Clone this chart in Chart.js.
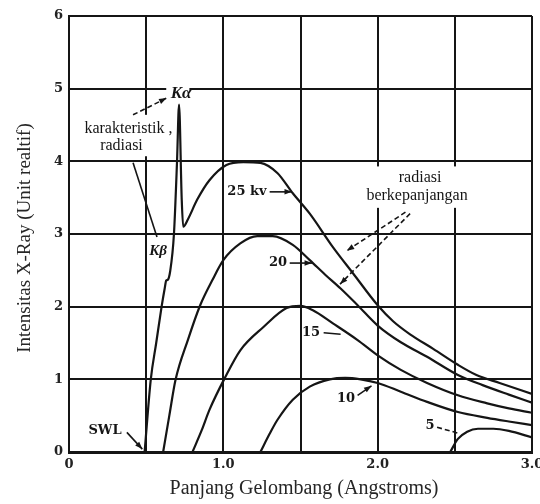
<!DOCTYPE html>
<html>
<head>
<meta charset="utf-8">
<script src="https://cdn.jsdelivr.net/npm/chart.js@4.4.1/dist/chart.umd.min.js"></script>
<style>
  body { margin: 0; background: #fff; }
  canvas { display: block; }
</style>
</head>
<body>
<canvas id="grafico" width="540" height="504" style="width:540px;height:504px"></canvas>
<script>
// Panjang gelombang (Angstrom) dan intensitas tiap kurva tegangan
var lam25 = [0.49, 0.53, 0.565, 0.60, 0.62, 0.63, 0.64, 0.655, 0.68, 0.70, 0.713, 0.73, 0.74, 0.77, 0.83, 0.91, 1.02, 1.13, 1.24, 1.35, 1.45, 1.56, 1.71, 1.84, 2.00, 2.10, 2.21, 2.36, 2.52, 2.64, 2.79, 3.00];
var int25 = [0, 1.0, 1.5, 2.0, 2.25, 2.36, 2.37, 2.48, 3.0, 4.0, 4.78, 3.5, 3.1, 3.2, 3.47, 3.74, 3.95, 3.99, 3.98, 3.84, 3.56, 3.28, 2.82, 2.46, 2.02, 1.80, 1.62, 1.42, 1.20, 1.06, 0.95, 0.80];

var lam20 = [0.61, 0.65, 0.69, 0.77, 0.85, 0.93, 1.00, 1.11, 1.22, 1.32, 1.45, 1.56, 1.66, 1.76, 1.87, 2.00, 2.15, 2.32, 2.52, 2.68, 2.85, 3.00];
var int20 = [0, 0.5, 0.99, 1.54, 2.02, 2.37, 2.64, 2.87, 2.97, 2.97, 2.85, 2.64, 2.44, 2.25, 2.02, 1.74, 1.51, 1.31, 1.06, 0.92, 0.79, 0.68];

var lam15 = [0.80, 0.86, 0.91, 1.01, 1.11, 1.26, 1.41, 1.50, 1.58, 1.71, 1.87, 2.00, 2.15, 2.32, 2.52, 2.71, 2.85, 3.00];
var int15 = [0, 0.3, 0.58, 1.02, 1.40, 1.72, 1.98, 2.01, 1.95, 1.77, 1.54, 1.33, 1.13, 0.95, 0.78, 0.67, 0.60, 0.54];

var lam10 = [1.24, 1.30, 1.35, 1.45, 1.56, 1.69, 1.79, 1.89, 2.00, 2.15, 2.32, 2.52, 2.71, 2.85, 3.00];
var int10 = [0, 0.25, 0.44, 0.72, 0.90, 1.0, 1.02, 1.0, 0.95, 0.83, 0.69, 0.55, 0.47, 0.42, 0.37];

var lam5 = [2.47, 2.52, 2.58, 2.65, 2.75, 2.85, 3.00];
var int5 = [0, 0.18, 0.28, 0.32, 0.32, 0.29, 0.20];

// Label sumbu
var ticksX = [0, 1.0, 2.0, 3.0];
var ticksY = [0, 1, 2, 3, 4, 5, 6];
var judulX = "Panjang Gelombang (Angstroms)";
var judulY = "Intensitas X-Ray (Unit realtif)";

var HITAM = "#151515";

function serie(xs, ys){
    return xs.map(function(x, i){ return {x: x, y: ys[i]}; });
}

function dataset(xs, ys){
    return {
        data: serie(xs, ys),
        borderColor: HITAM,
        borderWidth: 2.2,
        pointRadius: 0,
        fill: false,
        cubicInterpolationMode: "monotone"
    };
}

// helper: koordinat data -> pixel
function P(c, x, y){
    return [c.scales.x.getPixelForValue(x), c.scales.y.getPixelForValue(y)];
}

function kotakPutih(ctx, c, x1, y1, x2, y2){
    var a = P(c, x1, y1), b = P(c, x2, y2);
    ctx.fillStyle = "#fff";
    ctx.fillRect(a[0], b[1], b[0] - a[0], a[1] - b[1]);
}

function teks(ctx, c, s, x, y, font){
    var p = P(c, x, y);
    ctx.font = font;
    ctx.fillStyle = HITAM;
    ctx.textAlign = "center";
    ctx.textBaseline = "middle";
    ctx.fillText(s, p[0], p[1]);
}

function panah(ctx, c, x1, y1, x2, y2, putus, ujung){
    var a = P(c, x1, y1), b = P(c, x2, y2);
    ctx.save();
    ctx.strokeStyle = HITAM;
    ctx.lineWidth = 1.6;
    ctx.setLineDash(putus ? [5, 3] : []);
    ctx.beginPath();
    ctx.moveTo(a[0], a[1]);
    ctx.lineTo(b[0], b[1]);
    ctx.stroke();
    if(ujung){
        var sud = Math.atan2(b[1] - a[1], b[0] - a[0]);
        ctx.setLineDash([]);
        ctx.fillStyle = HITAM;
        ctx.beginPath();
        ctx.moveTo(b[0], b[1]);
        ctx.lineTo(b[0] - 8 * Math.cos(sud - 0.35), b[1] - 8 * Math.sin(sud - 0.35));
        ctx.lineTo(b[0] - 8 * Math.cos(sud + 0.35), b[1] - 8 * Math.sin(sud + 0.35));
        ctx.closePath();
        ctx.fill();
    }
    ctx.restore();
}

var anotasi = {
    id: "anotasi",
    beforeDatasetsDraw: function(c){
        var ctx = c.ctx;
        ctx.save();
        kotakPutih(ctx, c, 0.05, 4.07, 0.69, 4.64);
        kotakPutih(ctx, c, 0.63, 4.83, 0.78, 5.05);
        kotakPutih(ctx, c, 1.90, 3.36, 2.61, 3.93);
        ctx.restore();
    },
    afterDatasetsDraw: function(c){
        var ctx = c.ctx;
        ctx.save();
        var serif = "'Liberation Serif', 'Times New Roman', serif";
        var tebal = "bold 13px 'DejaVu Serif', serif";

        teks(ctx, c, "K\u03b1", 0.726, 4.93, "italic bold 17px " + serif);
        panah(ctx, c, 0.415, 4.64, 0.632, 4.87, true, true);
        teks(ctx, c, "karakteristik ,", 0.385, 4.45, "16px " + serif);
        teks(ctx, c, "radiasi", 0.34, 4.22, "16px " + serif);
        panah(ctx, c, 0.415, 3.98, 0.57, 2.96, false, false);
        teks(ctx, c, "K\u03b2", 0.577, 2.77, "italic bold 15px " + serif);

        teks(ctx, c, "25 kv", 1.153, 3.58, tebal);
        panah(ctx, c, 1.30, 3.58, 1.445, 3.58, false, true);
        teks(ctx, c, "20", 1.355, 2.60, tebal);
        panah(ctx, c, 1.43, 2.60, 1.575, 2.60, false, true);
        teks(ctx, c, "15", 1.568, 1.64, tebal);
        panah(ctx, c, 1.65, 1.64, 1.76, 1.62, false, false);
        teks(ctx, c, "10", 1.795, 0.74, tebal);
        panah(ctx, c, 1.87, 0.78, 1.96, 0.91, false, true);
        teks(ctx, c, "5", 2.34, 0.36, tebal);
        panah(ctx, c, 2.385, 0.34, 2.52, 0.26, true, false);
        teks(ctx, c, "SWL", 0.233, 0.30, tebal);
        panah(ctx, c, 0.375, 0.27, 0.475, 0.04, false, true);

        teks(ctx, c, "radiasi", 2.275, 3.77, "16px " + serif);
        teks(ctx, c, "berkepanjangan", 2.255, 3.52, "16px " + serif);
        panah(ctx, c, 2.18, 3.30, 1.80, 2.77, true, true);
        panah(ctx, c, 2.21, 3.28, 1.756, 2.31, true, true);

        // judul sumbu
        ctx.fillStyle = "#262626";
        ctx.textAlign = "center";
        ctx.textBaseline = "middle";
        ctx.font = "20px " + serif;
        ctx.fillText(judulX, 304, 489);
        ctx.translate(25, 238);
        ctx.rotate(-Math.PI / 2);
        ctx.font = "19px " + serif;
        ctx.fillText(judulY, 0, 0);
        ctx.restore();
    }
};

window.onload = function(){
    var canvas = document.getElementById("grafico");
    new Chart(canvas, {
        type: "line",
        data: {
            datasets: [
                dataset(lam25, int25),
                dataset(lam20, int20),
                dataset(lam15, int15),
                dataset(lam10, int10),
                dataset(lam5, int5)
            ]
        },
        options: {
            responsive: false,
            animation: false,
            layout: { padding: { left: 0, right: 8, top: 16, bottom: 0 } },
            plugins: { legend: { display: false }, tooltip: { enabled: false } },
            scales: {
                x: {
                    type: "linear",
                    min: 0, max: 3,
                    grid: { color: HITAM, lineWidth: 2, drawTicks: false },
                    border: { color: HITAM, width: 3 },
                    ticks: {
                        stepSize: 0.5,
                        autoSkip: false,
                        maxRotation: 0,
                        padding: 5,
                        color: "#222",
                        font: { family: "'DejaVu Serif', serif", size: 13, weight: "bold" },
                        callback: function(v){
                            var i = ticksX.indexOf(v);
                            if(i < 0) return "";
                            return v === 0 ? "0" : ticksX[i].toFixed(1);
                        }
                    },
                    afterFit: function(s){ s.height = 52; s.paddingRight = 0; s.paddingLeft = 0; }
                },
                y: {
                    min: 0, max: 6,
                    grid: { color: HITAM, lineWidth: 2, drawTicks: false },
                    border: { color: HITAM, width: 2 },
                    ticks: {
                        stepSize: 1,
                        padding: 6,
                        color: "#222",
                        font: { family: "'DejaVu Serif', serif", size: 13, weight: "bold" },
                        callback: function(v){
                            return ticksY.indexOf(v) >= 0 ? String(v) : "";
                        }
                    },
                    afterFit: function(s){ s.width = 69; }
                }
            }
        },
        plugins: [anotasi]
    });
};
</script>
</body>
</html>
